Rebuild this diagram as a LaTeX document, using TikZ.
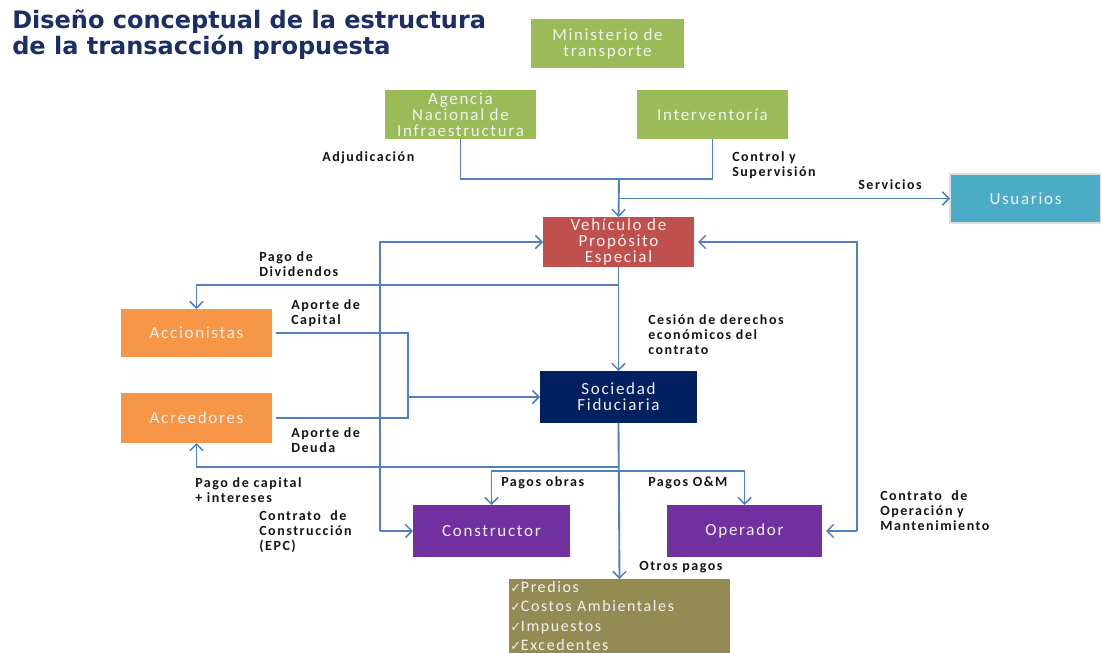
\documentclass[tikz,border=0pt]{standalone}
\usepackage{fontspec}
\setmainfont{Carlito}
\newfontfamily\boxfont[LetterSpace=10]{Carlito}
\newfontfamily\labfont[LetterSpace=11]{Carlito}
\newfontfamily\titlefont{DejaVu Sans}
\newfontfamily\checkfont{DejaVu Sans}
\newcommand{\chk}{{\checkfont\fontsize{9.5pt}{9.5pt}\selectfont ✓}}
\usetikzlibrary{arrows.meta}
\definecolor{cgreen}{HTML}{9BBB59}
\definecolor{cred}{HTML}{C0504D}
\definecolor{corange}{HTML}{F79646}
\definecolor{cnavy}{HTML}{002060}
\definecolor{cpurple}{HTML}{7030A0}
\definecolor{ccyan}{HTML}{4BACC6}
\definecolor{colive}{HTML}{948A54}
\definecolor{lineblue}{HTML}{4F81BD}
\definecolor{titlecol}{HTML}{1B2F66}
\definecolor{boxtext}{HTML}{F2F2F2}
\definecolor{labtext}{HTML}{141414}
\begin{document}
\begin{tikzpicture}[x=0.75pt,y=-0.75pt,
  box/.style n args={2}{inner sep=0pt, outer sep=0pt, text=boxtext,
    minimum width=#1*0.75pt, minimum height=#2*0.75pt,
    font=\boxfont\fontsize{12.75pt}{12pt}\selectfont, align=center},
  lab/.style={anchor=west, inner sep=0pt, align=left, text=labtext,
    font=\labfont\bfseries\fontsize{10.5pt}{11.25pt}\selectfont},
  conn/.style={draw=lineblue, line width=1.4pt},
  arr/.style={conn, -{Straight Barb[length=5pt,width=10pt,line width=1.1pt]}},
  ttl/.style={anchor=base west, inner sep=0pt, text=titlecol,
    font=\titlefont\bfseries\fontsize{18pt}{20pt}\selectfont}]
\useasboundingbox (0,0) rectangle (1101,653);
\fill[white] (0,0) rectangle (1101,653);

% title
\node[ttl] (t1) at (12,28) {Diseño conceptual de la estructura};
\node[ttl] (t2) at (12,54) {de la transacción propuesta};

% boxes
\node[box={153}{49}, fill=cgreen] (min) at (607.5,43.5) {Ministerio de\\transporte};
\node[box={151}{49}, fill=cgreen] (ani) at (460.5,114.5) {Agencia\\Nacional de\\Infraestructura};
\node[box={151}{49}, fill=cgreen] (intv) at (712.5,114.5) {Interventoría};
\node[box={151}{49}, fill=ccyan, draw=black!12, line width=0.8pt] (usu) at (1025.5,198.5) {Usuarios};
\node[box={151}{50}, fill=cred] (vpe) at (618.5,242) {Vehículo de\\Propósito\\Especial};
\node[box={151}{48}, fill=corange] (acc) at (196.5,333) {Accionistas};
\node[box={151}{50}, fill=corange] (acr) at (196.5,418) {Acreedores};
\node[box={157}{52}, fill=cnavy] (sf) at (618.5,397) {Sociedad\\Fiduciaria};
\node[box={157}{52}, fill=cpurple] (con) at (491.5,531) {Constructor};
\node[box={155}{52}, fill=cpurple] (op) at (744.5,531) {Operador};
\node[box={221}{74}, fill=colive] (bot) at (619.5,616) {};
\node[anchor=west, inner sep=0pt, align=left, text=boxtext,
  font=\boxfont\fontsize{12pt}{14.5pt}\selectfont] (botlist) at (510,616)
  {\chk Predios\\
   \chk Costos Ambientales\\
   \chk Impuestos\\
   \chk Excedentes};

% coordinates
\coordinate (jt) at (619,179);
\coordinate (js) at (619,198.5);
\coordinate (dv) at (619,285);
\coordinate (mg) at (408,397);
\coordinate (lb) at (380,531);
\coordinate (rb) at (857,531);
\coordinate (ra) at (619,467);
\coordinate (po) at (619,471);

% connectors
\draw[conn] (ani.south) |- (jt) -| (intv.south);
\draw[arr] (jt) -- (vpe.north);
\draw[arr] (js) -- (usu.west);
\draw[arr] (vpe.south) -- (sf.north);
\draw[arr] (dv) -| (acc.north);
\draw[conn, shorten <=3pt] (acc.east) -| (mg);
\draw[conn, shorten <=3pt] (acr.east) -| (mg);
\draw[arr] (mg) -- (sf.west);
\draw[arr] (lb) |- (vpe.west);
\draw[arr] (lb) -- (con.west);
\draw[arr, shorten >=3pt] (rb) |- (vpe.east);
\draw[arr, shorten >=3pt] (rb) -- (op.east);
\draw[arr] (sf.south) -- (bot.north);
\draw[arr] (ra) -| (acr.south);
\draw[arr] (po) -| (con.north);
\draw[arr] (po) -| (op.north);

% labels
\node[lab] (ladj) at (322,158) {Adjudicación};
\node[lab] (lctrl) at (732,165) {Control y\\Supervisión};
\node[lab] (lserv) at (858,185) {Servicios};
\node[lab] (ldiv) at (259,264) {Pago de\\Dividendos};
\node[lab] (lcap) at (291,313) {Aporte de\\Capital};
\node[lab] (ldeu) at (291,440) {Aporte de\\Deuda};
\node[lab] (lces) at (648,335) {Cesión de derechos\\económicos del\\contrato};
\node[lab] (lpci) at (195,490) {Pago de capital\\+ intereses};
\node[lab] (lepc) at (259,532) {Contrato\ \ de\\Construcción\\(EPC)};
\node[lab] (lpob) at (501,483) {Pagos obras};
\node[lab] (lpom) at (648,483) {Pagos O\&M};
\node[lab] (lopm) at (880,511) {Contrato\ \ de\\Operación y\\Mantenimiento};
\node[lab] (lotr) at (639,567) {Otros pagos};
\end{tikzpicture}
\end{document}
